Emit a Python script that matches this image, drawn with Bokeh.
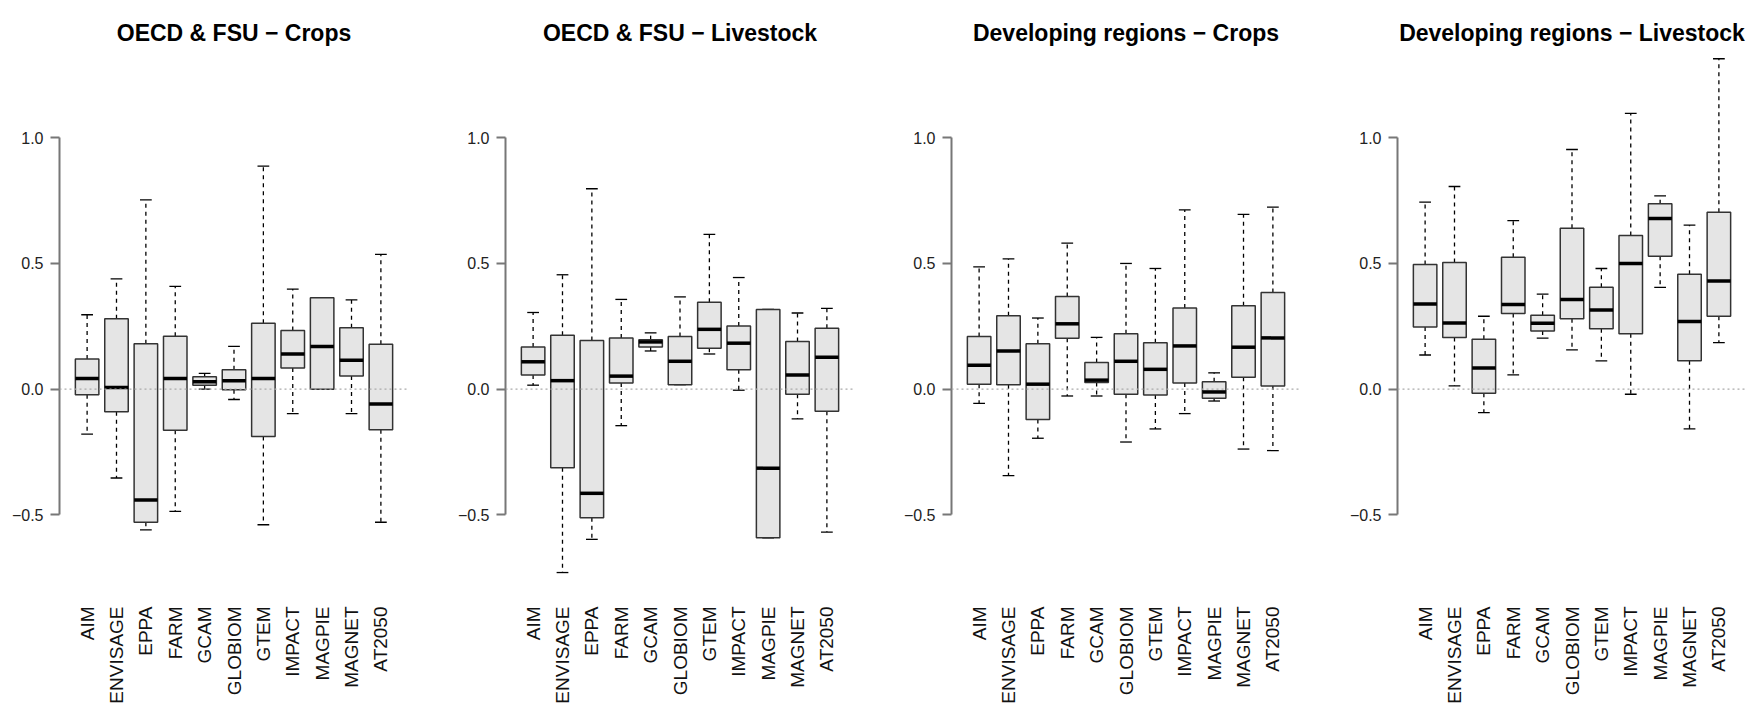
import math
from bokeh.plotting import figure
from bokeh.layouts import row
from bokeh.models import Range1d, FixedTicker, Span
from bokeh.core.properties import value
from bokeh.embed import file_html
from bokeh.resources import INLINE

models = ["AIM", "ENVISAGE", "EPPA", "FARM", "GCAM", "GLOBIOM", "GTEM",
          "IMPACT", "MAGPIE", "MAGNET", "AT2050"]

panel_titles = ["OECD & FSU \u2212 Crops", "OECD & FSU \u2212 Livestock",
                "Developing regions \u2212 Crops", "Developing regions \u2212 Livestock"]

# OECD & FSU - Crops
oecd_crops_lower = [-0.179, -0.353, -0.559, -0.486, 0.000, -0.041, -0.539, -0.097, 0.000, -0.097, -0.529]
oecd_crops_q1 = [-0.022, -0.090, -0.529, -0.163, 0.016, -0.002, -0.188, 0.084, 0.000, 0.052, -0.161]
oecd_crops_median = [0.043, 0.007, -0.441, 0.043, 0.030, 0.034, 0.043, 0.140, 0.170, 0.115, -0.059]
oecd_crops_q3 = [0.120, 0.280, 0.181, 0.211, 0.050, 0.077, 0.262, 0.233, 0.364, 0.244, 0.179]
oecd_crops_upper = [0.296, 0.439, 0.753, 0.409, 0.063, 0.170, 0.887, 0.398, 0.364, 0.355, 0.536]

# OECD & FSU - Livestock
oecd_live_lower = [0.016, -0.729, -0.597, -0.145, 0.152, 0.018, 0.140, -0.004, -0.591, -0.118, -0.568]
oecd_live_q1 = [0.056, -0.312, -0.511, 0.025, 0.168, 0.018, 0.163, 0.077, -0.591, -0.020, -0.088]
oecd_live_median = [0.109, 0.034, -0.414, 0.052, 0.188, 0.111, 0.238, 0.183, -0.314, 0.056, 0.127]
oecd_live_q3 = [0.168, 0.215, 0.194, 0.204, 0.197, 0.210, 0.346, 0.251, 0.317, 0.190, 0.242]
oecd_live_upper = [0.305, 0.455, 0.797, 0.357, 0.224, 0.367, 0.616, 0.444, 0.317, 0.303, 0.321]

# Developing regions - Crops
dev_crops_lower = [-0.056, -0.344, -0.195, -0.027, -0.027, -0.210, -0.158, -0.097, -0.047, -0.238, -0.244]
dev_crops_q1 = [0.020, 0.018, -0.120, 0.203, 0.027, -0.020, -0.023, 0.025, -0.036, 0.048, 0.013]
dev_crops_median = [0.095, 0.152, 0.020, 0.260, 0.036, 0.111, 0.079, 0.172, -0.011, 0.167, 0.204]
dev_crops_q3 = [0.210, 0.292, 0.181, 0.369, 0.106, 0.220, 0.185, 0.323, 0.030, 0.332, 0.384]
dev_crops_upper = [0.486, 0.518, 0.283, 0.581, 0.206, 0.500, 0.480, 0.713, 0.065, 0.695, 0.724]

# Developing regions - Livestock
dev_live_lower = [0.136, 0.013, -0.093, 0.057, 0.203, 0.156, 0.113, -0.020, 0.405, -0.158, 0.185]
dev_live_q1 = [0.247, 0.206, -0.016, 0.301, 0.231, 0.280, 0.240, 0.220, 0.529, 0.113, 0.290]
dev_live_median = [0.339, 0.263, 0.084, 0.337, 0.262, 0.357, 0.315, 0.500, 0.679, 0.269, 0.430]
dev_live_q3 = [0.496, 0.504, 0.199, 0.525, 0.294, 0.640, 0.405, 0.611, 0.737, 0.457, 0.704]
dev_live_upper = [0.744, 0.806, 0.290, 0.670, 0.378, 0.953, 0.480, 1.097, 0.769, 0.652, 1.314]

y_ticks = [-0.5, 0.0, 0.5, 1.0]
y_tick_labels = ["\u22120.5", "0.0", "0.5", "1.0"]

panels = [
    (oecd_crops_lower, oecd_crops_q1, oecd_crops_median, oecd_crops_q3, oecd_crops_upper),
    (oecd_live_lower, oecd_live_q1, oecd_live_median, oecd_live_q3, oecd_live_upper),
    (dev_crops_lower, dev_crops_q1, dev_crops_median, dev_crops_q3, dev_crops_upper),
    (dev_live_lower, dev_live_q1, dev_live_median, dev_live_q3, dev_live_upper),
]

FONT = "Liberation Sans"
BOX_HALF = 0.4
STAPLE_HALF = 0.2

# layout (pixels); the frame spans the whole canvas height
FIG_H = 707
PX_PER_UNIT = 251.5
ZERO_PX = 388.7                        # pixel row of the value 0
Y_END = ZERO_PX / PX_PER_UNIT
Y_START = (ZERO_PX - FIG_H) / PX_PER_UNIT
LABEL_TOP_PX = 606
TITLE_BASE_PX = 32
LABEL_Y = (ZERO_PX - LABEL_TOP_PX) / PX_PER_UNIT
TITLE_Y = (ZERO_PX - TITLE_BASE_PX) / PX_PER_UNIT
X_START, X_END = 0.06, 11.94

figs = []
for k, (lo, q1, med, q3, up) in enumerate(panels):
    w = 446 if k < 3 else 416
    p = figure(width=w, height=FIG_H, output_backend="svg", toolbar_location=None,
               x_range=Range1d(X_START, X_END), y_range=Range1d(Y_START, Y_END),
               x_axis_location=None,
               min_border_left=59, min_border_right=(38 if k < 3 else 8),
               min_border_top=0, min_border_bottom=0)
    p.outline_line_color = None
    p.xgrid.visible = False
    p.ygrid.visible = False
    p.background_fill_color = "white"
    p.border_fill_color = "white"

    xs = [i + 1 for i in range(len(models))]

    p.add_layout(Span(location=0, dimension="width", line_color="#aaaaaa",
                      line_dash="2 3", line_width=1.2))

    # whiskers
    p.segment(x0=xs, y0=q3, x1=xs, y1=up, line_color="black", line_width=1.3, line_dash="4 4")
    p.segment(x0=xs, y0=q1, x1=xs, y1=lo, line_color="black", line_width=1.3, line_dash="4 4")
    # staples
    p.segment(x0=[x - STAPLE_HALF for x in xs], y0=up, x1=[x + STAPLE_HALF for x in xs], y1=up,
              line_color="black", line_width=1.3)
    p.segment(x0=[x - STAPLE_HALF for x in xs], y0=lo, x1=[x + STAPLE_HALF for x in xs], y1=lo,
              line_color="black", line_width=1.3)
    # boxes
    p.quad(left=[x - BOX_HALF for x in xs], right=[x + BOX_HALF for x in xs],
           bottom=q1, top=q3, fill_color="#e5e5e5", line_color="#333333", line_width=1.5)
    # medians
    p.segment(x0=[x - BOX_HALF for x in xs], y0=med, x1=[x + BOX_HALF for x in xs], y1=med,
              line_color="black", line_width=3.5, line_cap="butt")

    # category labels (vertical, reading upward, ending at the top)
    p.text(x=xs, y=[LABEL_Y] * len(xs), text=models, angle=math.pi / 2,
           text_align="right", text_baseline="middle",
           text_font=value(FONT), text_font_size="19px", text_color="#111111")

    # panel title
    p.text(x=[(X_START + X_END) / 2], y=[TITLE_Y], text=[panel_titles[k]],
           text_align="center", text_baseline="alphabetic",
           text_font=value(FONT), text_font_style="bold", text_font_size="23px",
           text_color="black")

    # y axis
    ya = p.yaxis[0]
    ya.ticker = FixedTicker(ticks=y_ticks)
    ya.major_label_overrides = {t: s for t, s in zip(y_ticks, y_tick_labels)}
    ya.bounds = (-0.5, 1.0)
    ya.axis_line_color = "#777777"
    ya.axis_line_width = 2
    ya.major_tick_line_color = "#777777"
    ya.major_tick_line_width = 2
    ya.major_tick_in = 0
    ya.major_tick_out = 9
    ya.minor_tick_line_color = None
    ya.major_label_standoff = 7
    ya.major_label_text_font = FONT
    ya.major_label_text_font_size = "16px"
    ya.major_label_text_color = "#222222"

    figs.append(p)

layout = row(*figs)
open("out.html", "w").write(file_html(layout, INLINE))
